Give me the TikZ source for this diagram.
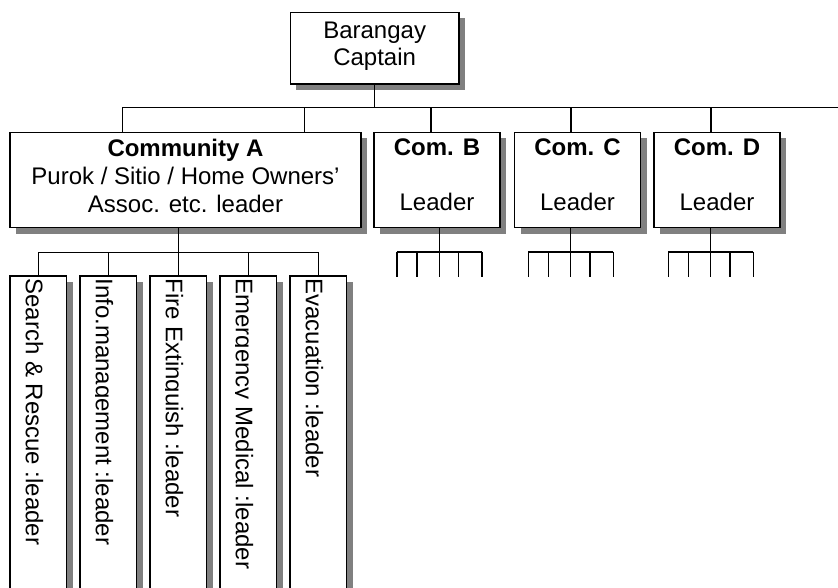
\documentclass[tikz,border=0pt]{standalone}
\usepackage{fontspec}
\setmainfont{Liberation Sans}
\usetikzlibrary{shadows,calc}
\definecolor{shadowgray}{HTML}{808080}
\begin{document}
\begin{tikzpicture}[x=1pt,y=-1pt,
  wire/.style={line width=1.4pt},
  box/.style={draw, line width=1.4pt, fill=white, inner sep=0pt,
    drop shadow={shadow xshift=6pt,shadow yshift=-6pt,fill=shadowgray,opacity=1}},
  combox/.style={box, minimum width=126pt, minimum height=95.4pt},
  teambox/.style={box, minimum width=56.5pt, minimum height=344pt},
  lbl/.style={font=\fontsize{24pt}{27.6pt}\selectfont, align=center, inner sep=0pt, anchor=north},
  vlbl/.style={font=\fontsize{24pt}{27.6pt}\selectfont, inner sep=0pt, rotate=-90, anchor=base west}]
\useasboundingbox (0,0) rectangle (838,587);
\clip (0,0) rectangle (838,587);

% ---- boxes ----
\node[box, minimum width=168.7pt, minimum height=71.7pt] (cap) at (374.65,48.15) {};
\node[box, minimum width=351pt, minimum height=95.4pt] (comA) at (185.5,180) {};
\node[combox] (comB) at (437,180) {};
\node[combox] (comC) at (577.5,180) {};
\node[combox] (comD) at (717,180) {};
\foreach \i/\x in {1/38.25,2/108.25,3/178.25,4/248.25,5/318.25}
  \node[teambox] (t\i) at (\x,448) {};

% ---- box texts ----
\node[lbl] (capT) at (374.65,21.3) {Barangay\\Captain};
\node[lbl] (comAT) at (185.5,139.3) {\textbf{Community A}\\Purok / Sitio / Home Owners’\\Assoc. etc. leader};
\node[lbl] (comBT) at (437,138.8) {\textbf{Com. B}\\[27.6pt]Leader};
\node[lbl] (comCT) at (577.5,138.8) {\textbf{Com. C}\\[27.6pt]Leader};
\node[lbl] (comDT) at (717,138.8) {\textbf{Com. D}\\[27.6pt]Leader};

% ---- vertical team labels, cut off at the baseline ----
\foreach \i/\txt in {1/{Search \& Rescue :leader},2/{Info.management :leader},
    3/{Fire Extinguish :leader},4/{Emergency Medical :leader},5/{Evacuation :leader}}{
  \begin{scope}
    \clip ($(t\i.north west)+(16.2,0)$) rectangle (t\i.south east);
    \node[vlbl] (t\i T) at ($(t\i.north west)+(16.5,3)$) {\txt};
  \end{scope}
}

% ---- main bus from the captain ----
\coordinate (busL) at (122.3,107.7);
\coordinate (busR) at (845,107.7);
\coordinate (jA) at (304.5,107.7);
\coordinate (jB) at (431,107.7);
\coordinate (jC) at (571,107.7);
\coordinate (jD) at (711,107.7);
\draw[wire] (busL) -- (busR);
\draw[wire] (cap.south) -- (cap.south |- busL);
\draw[wire] (busL) -- (busL |- comA.north);
\draw[wire] (jA) -- (jA |- comA.north);
\draw[wire] (jB) -- (jB |- comB.north);
\draw[wire] (jC) -- (jC |- comC.north);
\draw[wire] (jD) -- (jD |- comD.north);

% ---- community A teams ----
\coordinate (sA) at (178.6,252.3);
\draw[wire] (sA |- comA.south) -- (sA);
\draw[wire] (t1.north |- sA) -- (t5.north |- sA);
\foreach \i in {1,...,5}
  \draw[wire] (t\i.north |- sA) -- (t\i.north);

% ---- small team forks under communities B, C, D ----
\foreach \c/\x in {B/439.3,C/570.7,D/710.7}{
  \coordinate (f\c) at (\x,251.9);
  \draw[wire] (f\c |- com\c.south) -- (f\c);
  \draw[wire] ($(f\c)+(-42.5,0)$) -- ($(f\c)+(42.5,0)$);
  \foreach \o in {-42.5,-22.5,0,19.3,42.5}
    \draw[wire] ($(f\c)+(\o,0)$) -- ++(0,25);
}
\end{tikzpicture}
\end{document}
